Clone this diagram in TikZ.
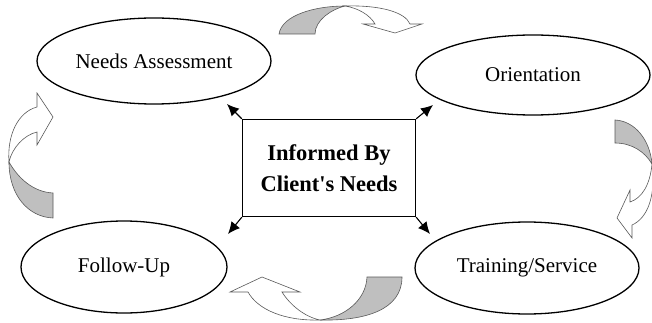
\documentclass[tikz,border=0pt]{standalone}
\usepackage{fontspec}
\setmainfont{Liberation Serif}
\usetikzlibrary{positioning,shapes.geometric,arrows.meta}

\tikzset{
	stage/.style = {ellipse, draw, line width = 1.3pt, inner sep = 0pt, font = \fontsize{21}{25}\selectfont},
	hub/.style = {rectangle, draw, line width = 1.3pt, align = center, font = \fontsize{22.5}{31}\selectfont\bfseries},
	cornerarrow/.style = {line width = 1.1pt, -{Latex[length = 12pt, width = 11pt]}},
	backband/.style = {fill = black!25, draw = black!65, line width = 0.6pt},
	frontband/.style = {fill = white, draw = black!65, line width = 0.6pt}
}

\begin{document}
\begin{tikzpicture}[x = 1pt, y = -1pt]

\useasboundingbox (0, 0) rectangle (652, 323);

% the four stages
\node[stage, minimum width = 234pt, minimum height = 86pt] (Needs) at (154, 61) {Needs Assessment};
\node[stage, minimum width = 234pt, minimum height = 80pt] (Orient) at (533, 75) {Orientation};
\node[stage, minimum width = 206pt, minimum height = 92pt] (Follow) at (124, 267) {Follow-Up};
\node[stage, minimum width = 224pt, minimum height = 92pt] (Train) at (527, 268) {Training/Service};

% centre box
\node[hub, minimum width = 173pt, minimum height = 97pt] (Client) at (329, 168) {Informed By \\ Client\textquotesingle s Needs};

\coordinate (tipNW) at (227, 104);
\coordinate (tipNE) at (433, 105);
\coordinate (tipSW) at (228, 234);
\coordinate (tipSE) at (430, 234);

\foreach \a/\t in {north west/tipNW, north east/tipNE, south west/tipSW, south east/tipSE}
	\draw[cornerarrow] (Client.\a) -- (\t);

% curved arrows between the stages
\begin{scope}
	% top
	\draw[backband] (279, 34) .. controls (282, 15) and (315, 6) .. (345, 6)
		.. controls (332, 9) and (315, 20) .. (315, 34) -- cycle;
	\draw[frontband] (345, 6) .. controls (380, 5) and (405, 12) .. (410, 24)
		-- (422, 24) -- (395, 33) -- (363, 24) -- (375, 24)
		.. controls (370, 15) and (358, 8) .. (345, 6) -- cycle;

	% right
	\draw[backband] (615, 120) .. controls (635, 121) and (650, 140) .. (652, 164)
		.. controls (645, 152) and (632, 143) .. (615, 143) -- cycle;
	\draw[frontband] (652, 164) .. controls (656, 195) and (648, 218) .. (632, 225)
		-- (632, 238) -- (617, 218) -- (630, 190) -- (630, 202)
		.. controls (642, 198) and (650, 185) .. (652, 164) -- cycle;

	% bottom
	\draw[backband] (402, 277) .. controls (402, 310) and (365, 321) .. (320, 320)
		.. controls (345, 317) and (366, 300) .. (367, 277) -- cycle;
	\draw[frontband] (320, 320) .. controls (285, 321) and (258, 310) .. (248, 292)
		-- (230, 292) -- (262, 277) -- (300, 292) -- (282, 292)
		.. controls (290, 305) and (305, 317) .. (320, 320) -- cycle;

	% left
	\draw[backband] (53, 218) .. controls (28, 217) and (9, 195) .. (9, 162)
		.. controls (18, 178) and (33, 192) .. (53, 193) -- cycle;
	\draw[frontband] (9, 162) .. controls (7, 135) and (18, 112) .. (37, 107)
		-- (37, 93) -- (53, 117) -- (37, 145) -- (37, 132)
		.. controls (24, 135) and (12, 148) .. (9, 162) -- cycle;
\end{scope}

\end{tikzpicture}
\end{document}
